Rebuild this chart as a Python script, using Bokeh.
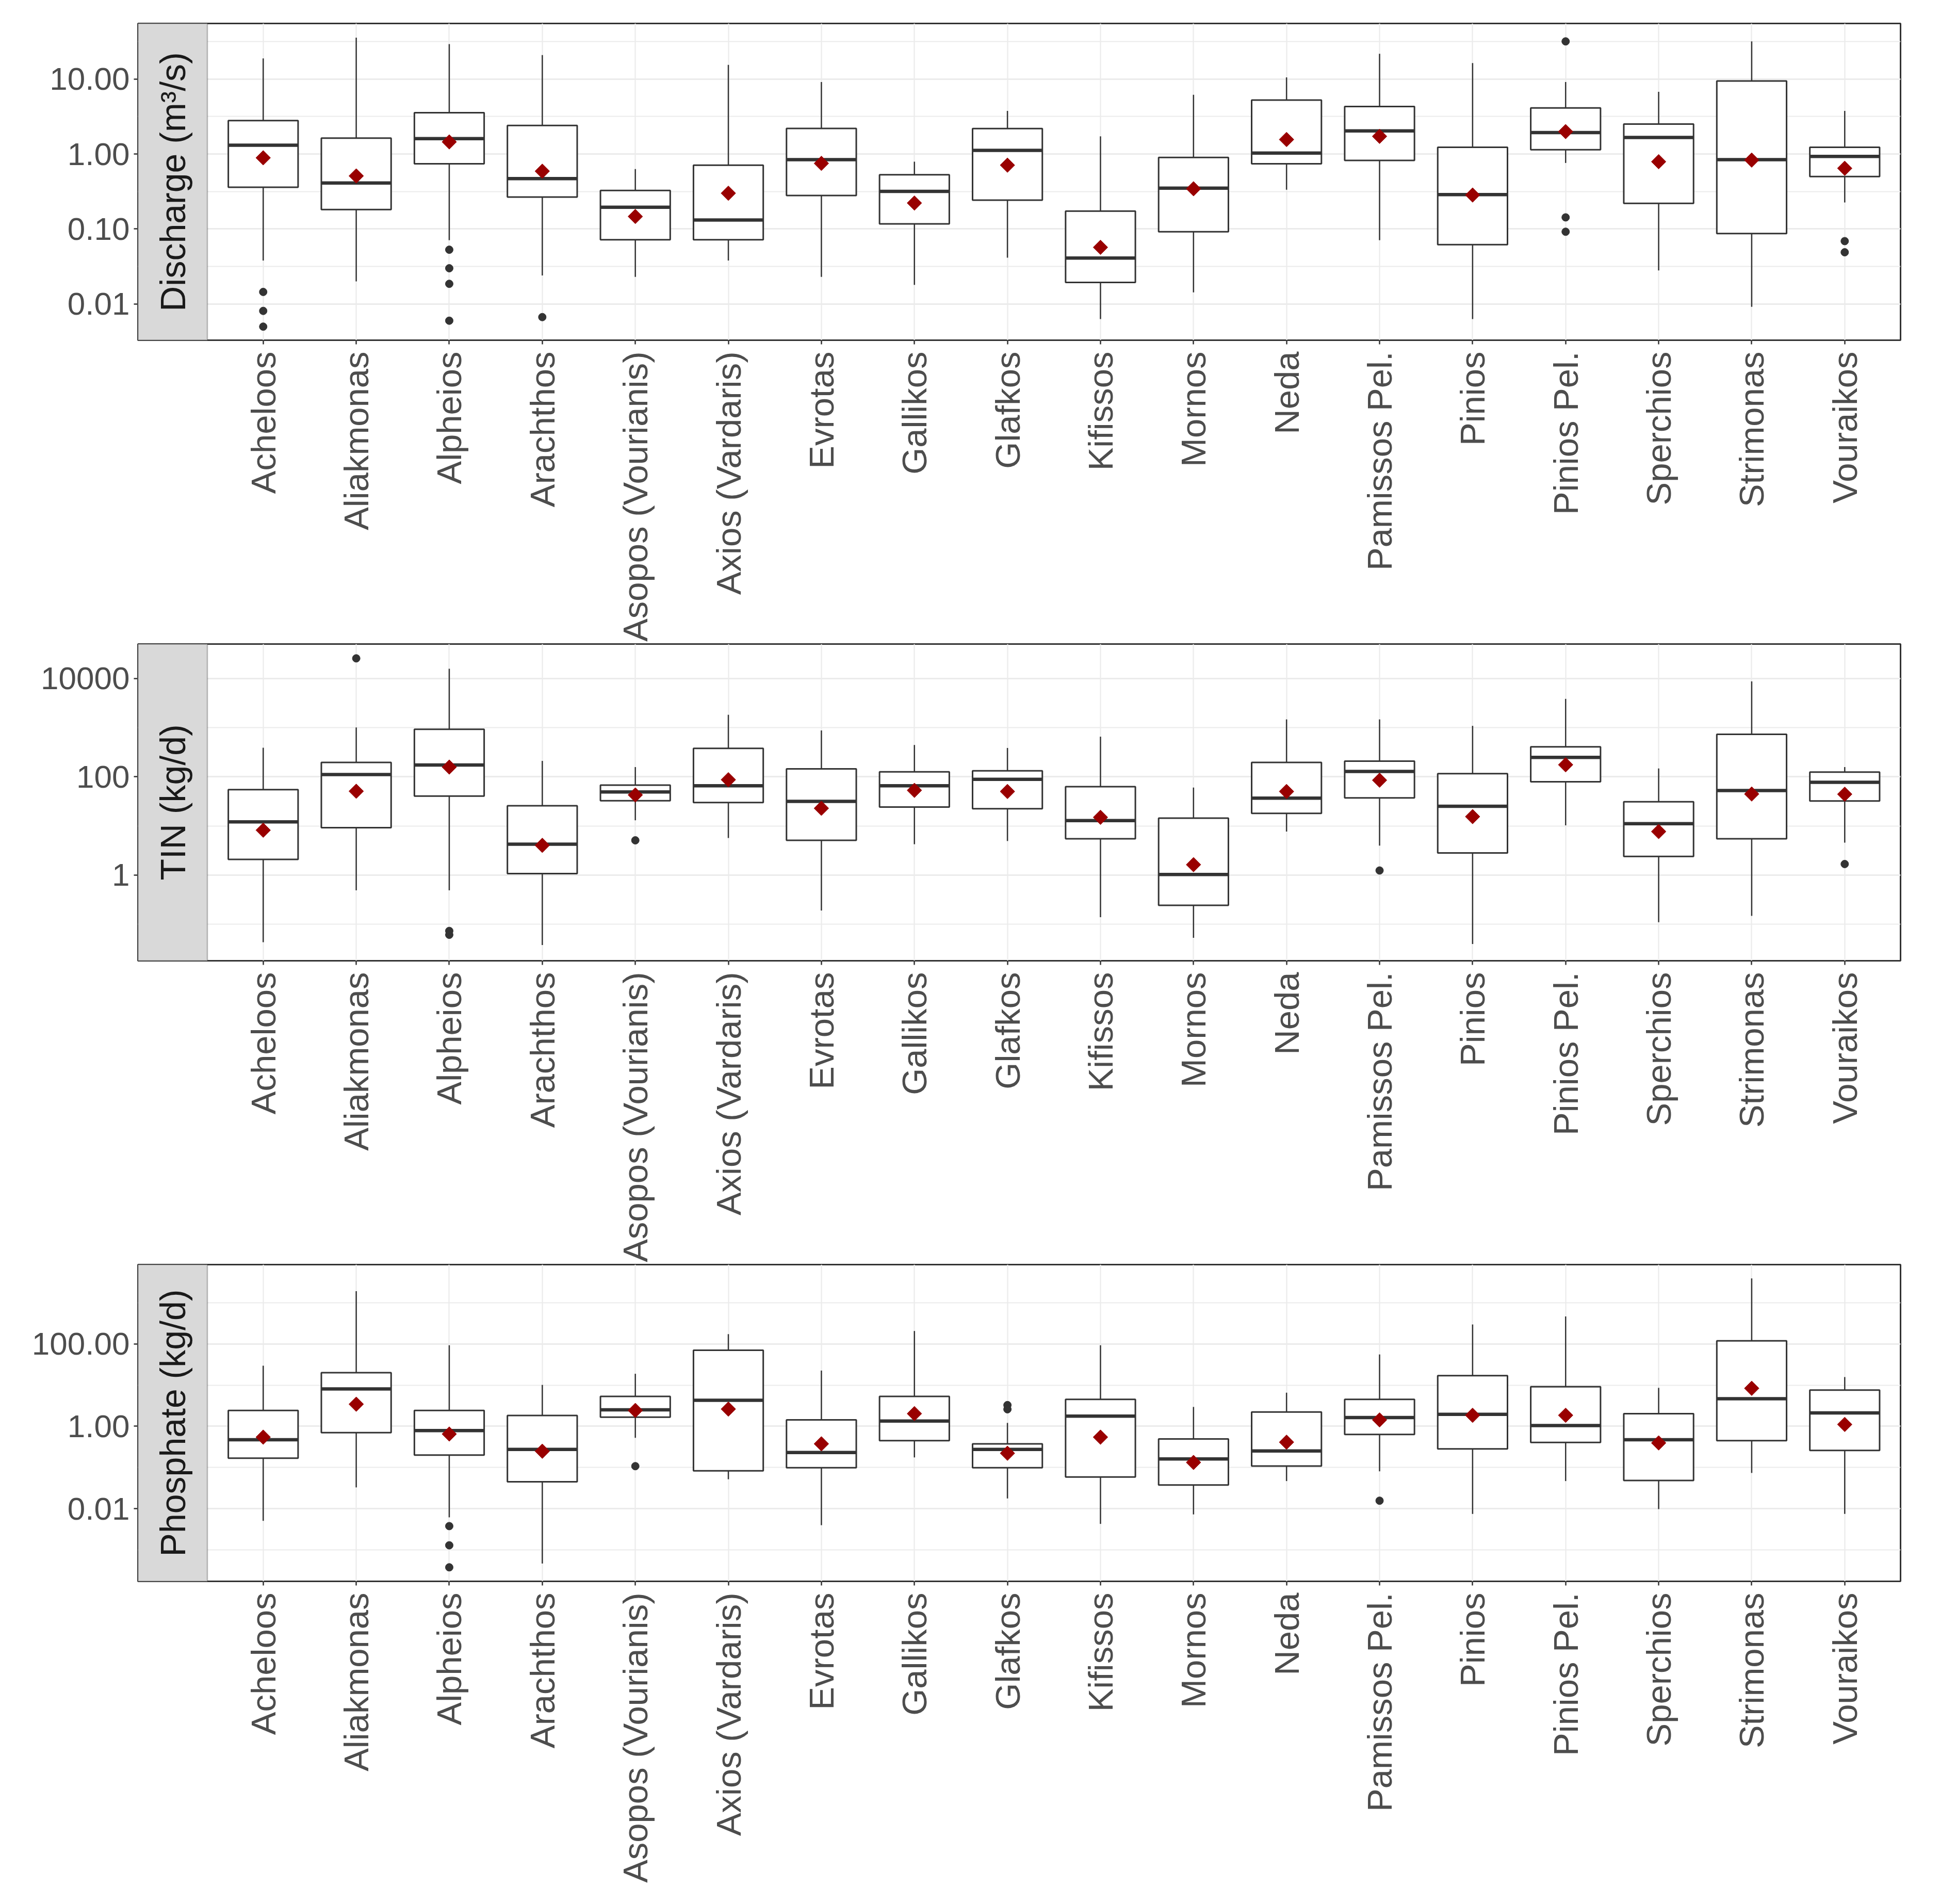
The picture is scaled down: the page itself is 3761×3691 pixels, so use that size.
import math
from bokeh.plotting import figure
from bokeh.models import ColumnDataSource, Range1d, FixedTicker, BoxAnnotation, Label
from bokeh.layouts import column
from bokeh.embed import file_html
from bokeh.resources import INLINE

rivers = ["Acheloos", "Aliakmonas", "Alpheios", "Arachthos", "Asopos (Vourianis)",
          "Axios (Vardaris)", "Evrotas", "Gallikos", "Glafkos", "Kifissos", "Mornos",
          "Neda", "Pamissos Pel.", "Pinios", "Pinios Pel.", "Sperchios", "Strimonas",
          "Vouraikos"]

# ---- Discharge (m3/s) ----
dis_whi = [18.8, 35.5, 29.2, 20.8, 0.63, 15.4, 9.1, 0.79, 3.75, 1.72, 6.15, 10.5, 21.7, 16.3, 9.1, 6.75, 31.7, 3.75]
dis_q3 = [2.79, 1.63, 3.55, 2.40, 0.327, 0.71, 2.19, 0.53, 2.18, 0.173, 0.90, 5.23, 4.29, 1.23, 4.11, 2.51, 9.4, 1.23]
dis_med = [1.31, 0.41, 1.60, 0.47, 0.195, 0.132, 0.84, 0.318, 1.12, 0.041, 0.351, 1.03, 2.03, 0.288, 1.93, 1.66, 0.84, 0.93]
dis_q1 = [0.36, 0.182, 0.74, 0.267, 0.072, 0.072, 0.28, 0.117, 0.243, 0.0194, 0.092, 0.74, 0.82, 0.062, 1.14, 0.22, 0.087, 0.50]
dis_wlo = [0.038, 0.020, 0.071, 0.024, 0.023, 0.038, 0.023, 0.018, 0.0415, 0.0063, 0.0143, 0.334, 0.071, 0.0063, 0.76, 0.028, 0.0092, 0.226]
dis_mean = [0.89, 0.51, 1.45, 0.59, 0.147, 0.30, 0.75, 0.222, 0.71, 0.057, 0.344, 1.56, 1.72, 0.284, 1.99, 0.79, 0.83, 0.645]
dis_out_river = ["Acheloos", "Acheloos", "Acheloos", "Alpheios", "Alpheios", "Alpheios", "Alpheios",
                 "Arachthos", "Pinios Pel.", "Pinios Pel.", "Pinios Pel.", "Vouraikos", "Vouraikos"]
dis_out_val = [0.0145, 0.0081, 0.005, 0.053, 0.030, 0.0186, 0.006, 0.0067, 31.7, 0.143, 0.092, 0.069, 0.049]
dis_ticks = [0.01, 0.1, 1, 10]
dis_tick_labels = ["0.01", "0.10", "1.00", "10.00"]
dis_minor = [10 ** -2.5, 10 ** -1.5, 10 ** -0.5, 10 ** 0.5, 10 ** 1.5]

# ---- TIN (kg/d) ----
tin_whi = [391, 1012, 15850, 211, 158, 1832, 879, 445, 387, 657, 60.5, 1476, 1476, 1091, 3860, 148, 8770, 158]
tin_q3 = [54.8, 196, 929, 25.8, 68, 379, 145, 126, 133, 63.1, 14.4, 196, 209, 116, 408, 31, 732, 125]
tin_med = [12.1, 111, 174, 4.25, 49.2, 65.9, 31.6, 65.9, 89, 12.9, 1.03, 36.8, 129, 25.2, 249, 11.1, 52.6, 77.4]
tin_q1 = [2.08, 9.24, 40.5, 1.07, 32.7, 30, 5.1, 24.2, 22.4, 5.5, 0.243, 18.0, 37.2, 2.82, 79.2, 2.4, 5.5, 32.3]
tin_wlo = [0.043, 0.49, 0.49, 0.0376, 13.05, 5.69, 0.19, 4.25, 4.94, 0.139, 0.053, 7.7, 3.98, 0.0396, 10.3, 0.11, 0.148, 4.58]
tin_mean = [8.2, 50.9, 158, 4.03, 42.8, 87.3, 22.9, 53.1, 50.3, 15.0, 1.63, 50.3, 85.4, 15.5, 176, 7.7, 44.7, 44.3]
tin_out_river = ["Aliakmonas", "Alpheios", "Alpheios", "Asopos (Vourianis)", "Pamissos Pel.", "Vouraikos"]
tin_out_val = [25800, 0.073, 0.061, 5.1, 1.24, 1.68]
tin_ticks = [1, 100, 10000]
tin_tick_labels = ["1", "100", "10000"]
tin_minor = [0.1, 10, 1000, 100000]

# ---- Phosphate (kg/d) ----
pho_whi = [29.5, 1900, 92.5, 10.1, 18.8, 172, 22.5, 205, 1.21, 92.5, 2.95, 6.54, 55.3, 295, 462, 8.57, 3860, 15.7]
pho_q3 = [2.43, 20, 2.43, 1.83, 5.33, 69.8, 1.43, 5.33, 0.376, 4.5, 0.493, 2.22, 4.5, 16.9, 9.14, 2.03, 118, 7.54]
pho_med = [0.474, 8.04, 0.79, 0.276, 2.52, 4.28, 0.231, 1.34, 0.276, 1.76, 0.161, 0.252, 1.63, 1.95, 1.04, 0.474, 4.68, 2.11]
pho_q1 = [0.169, 0.70, 0.20, 0.045, 1.67, 0.0835, 0.0987, 0.45, 0.0987, 0.059, 0.0376, 0.109, 0.637, 0.284, 0.406, 0.0486, 0.45, 0.259]
pho_wlo = [0.0051, 0.033, 0.0062, 0.00047, 0.526, 0.052, 0.004, 0.176, 0.0178, 0.0043, 0.0073, 0.047, 0.081, 0.0075, 0.047, 0.0098, 0.074, 0.0075]
pho_mean = [0.546, 3.44, 0.65, 0.249, 2.43, 2.62, 0.376, 2.03, 0.222, 0.546, 0.133, 0.412, 1.43, 1.85, 1.85, 0.396, 8.35, 1.11]
pho_out_river = ["Alpheios", "Alpheios", "Alpheios", "Asopos (Vourianis)", "Glafkos", "Glafkos", "Pamissos Pel."]
pho_out_val = [0.0038, 0.0013, 0.00038, 0.108, 3.27, 2.59, 0.0157]
pho_ticks = [0.01, 1, 100]
pho_tick_labels = ["0.01", "1.00", "100.00"]
pho_minor = [0.001, 0.1, 10, 1000]

FONT = "Liberation Sans"
DARK = "#333333"
GRID = "#EBEBEB"
HALF = 0.375
STRIP_LEFT = -0.346
XMIN, XMAX = 0.4, 18.6


def panel(title, whi, q3, med, q1, wlo, mean, out_river, out_val,
          ylog_lo, ylog_hi, ticks, tick_labels, minor, top_border):
    xs = list(range(1, len(rivers) + 1))
    p = figure(frame_width=3417, frame_height=614,
               min_border_left=267, min_border_right=61,
               min_border_top=top_border, min_border_bottom=5,
               x_range=Range1d(STRIP_LEFT, XMAX),
               y_range=Range1d(10 ** ylog_lo, 10 ** ylog_hi),
               y_axis_type="log", output_backend="svg", toolbar_location=None,
               background_fill_color="white", border_fill_color="white")

    src = ColumnDataSource(dict(
        x=xs, left=[x - HALF for x in xs], right=[x + HALF for x in xs],
        whi=whi, q3=q3, med=med, q1=q1, wlo=wlo, mean=mean))

    # whiskers
    p.segment(x0="x", y0="q3", x1="x", y1="whi", source=src, line_color=DARK, line_width=2.5)
    p.segment(x0="x", y0="q1", x1="x", y1="wlo", source=src, line_color=DARK, line_width=2.5)
    # boxes
    p.quad(left="left", right="right", bottom="q1", top="q3", source=src,
           fill_color="white", line_color=DARK, line_width=3)
    # medians
    p.segment(x0="left", y0="med", x1="right", y1="med", source=src,
              line_color=DARK, line_width=6.5)
    # outliers
    ox = [rivers.index(r) + 1 for r in out_river]
    osrc = ColumnDataSource(dict(x=ox, y=out_val))
    p.scatter(x="x", y="y", source=osrc, size=15, fill_color=DARK, line_color=DARK)
    # means
    p.scatter(x="x", y="mean", source=src, marker="square", angle=math.pi / 4,
              size=20, fill_color="#990000", line_color="#990000")

    # axes
    p.xaxis.ticker = FixedTicker(ticks=xs)
    p.xaxis.major_label_overrides = {x: r for x, r in zip(xs, rivers)}
    p.xaxis.major_label_orientation = math.pi / 2
    p.yaxis.ticker = FixedTicker(ticks=ticks, minor_ticks=minor)
    p.yaxis.major_label_overrides = {t: l for t, l in zip(ticks, tick_labels)}
    for ax in (p.xaxis, p.yaxis):
        ax.axis_line_color = None
        ax.major_tick_line_color = DARK
        ax.major_tick_line_width = 2.5
        ax.major_tick_out = 8
        ax.major_tick_in = 0
        ax.minor_tick_line_color = None
        ax.major_label_text_font = FONT
        ax.major_label_text_color = "#4D4D4D"
    p.xaxis.major_label_text_font_size = "67px"
    p.yaxis.major_label_text_font_size = "62px"
    p.xaxis.major_label_standoff = 14
    p.yaxis.major_label_standoff = 8

    # grid
    p.xgrid.ticker = FixedTicker(ticks=xs)
    p.xgrid.grid_line_color = GRID
    p.xgrid.grid_line_width = 2.2
    p.ygrid.ticker = FixedTicker(ticks=ticks, minor_ticks=minor)
    p.ygrid.grid_line_color = GRID
    p.ygrid.grid_line_width = 2.8
    p.ygrid.minor_grid_line_color = GRID
    p.ygrid.minor_grid_line_width = 2.2

    p.outline_line_color = DARK
    p.outline_line_width = 3

    # strip with title
    p.add_layout(BoxAnnotation(left=STRIP_LEFT, right=XMIN, fill_color="#D9D9D9",
                               fill_alpha=1.0, line_color=DARK, line_width=2.5,
                               level="annotation"))
    p.add_layout(Label(x=(STRIP_LEFT + XMIN) / 2, y=10 ** ((ylog_lo + ylog_hi) / 2),
                       text=title, angle=math.pi / 2, text_align="center",
                       text_baseline="middle", text_font=FONT,
                       text_font_size="68px", text_color="#1A1A1A"))
    return p


p1 = panel("Discharge (m³/s)", dis_whi, dis_q3, dis_med, dis_q1, dis_wlo, dis_mean,
           dis_out_river, dis_out_val, -2.482, 1.740, dis_ticks, dis_tick_labels, dis_minor, 45)
p2 = panel("TIN (kg/d)", tin_whi, tin_q3, tin_med, tin_q1, tin_wlo, tin_mean,
           tin_out_river, tin_out_val, -1.744, 4.703, tin_ticks, tin_tick_labels, tin_minor, 2)
p3 = panel("Phosphate (kg/d)", pho_whi, pho_q3, pho_med, pho_q1, pho_wlo, pho_mean,
           pho_out_river, pho_out_val, -3.760, 3.922, pho_ticks, pho_tick_labels, pho_minor, 2)

layout = column(p1, p2, p3)
open("out.html", "w").write(file_html(layout, INLINE))
